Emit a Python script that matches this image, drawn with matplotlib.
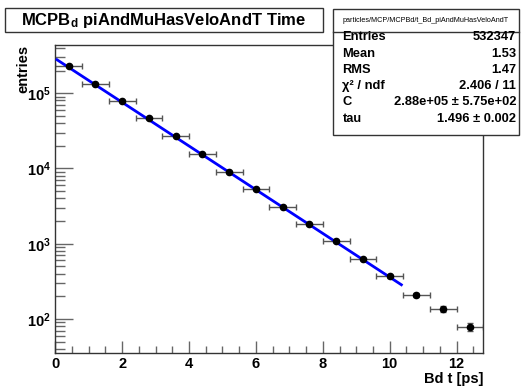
import numpy as np
import matplotlib
matplotlib.use("Agg")
import matplotlib.pyplot as plt
from matplotlib.patches import Rectangle
from matplotlib.ticker import LogLocator, MultipleLocator, NullFormatter

plt.rcParams['font.family'] = ['Liberation Sans', 'DejaVu Sans']
plt.rcParams['mathtext.default'] = 'regular'

# data
bin_centers = [0.4, 1.2, 2.0, 2.8, 3.6, 4.4, 5.2, 6.0, 6.8, 7.6, 8.4, 9.2, 10.0, 10.8, 11.6, 12.4]
bin_halfwidth = [0.4] * 16
entries = [230000, 134000, 78000, 46300, 26800, 15600, 8930, 5300, 3100, 1820, 1100, 625, 368, 210, 135, 79]
entries_err = [480, 366, 280, 215, 164, 125, 94, 73, 56, 43, 33, 25, 19, 14.5, 11.6, 8.9]
fit_C = 2.88e5
fit_tau = 1.496
fit_range = [0.05, 10.35]

title = "MCPB$_{d}$ piAndMuHasVeloAndT Time"
stat_header = "particles/MCP/MCPBd/t_Bd_piAndMuHasVeloAndT"
stat_names = ["Entries", "Mean", "RMS", "\u03c7\u00b2 / ndf", "C", "tau"]
stat_values = ["532347", "1.53", "1.47", "2.406 / 11", "2.88e+05 \u00b1 5.75e+02", "1.496 \u00b1 0.002"]
xlabel = "Bd t [ps]"
ylabel = "entries"

W, H = 524, 387
fig = plt.figure(figsize=(W / 100, H / 100), dpi=100)
fig.patch.set_facecolor('white')

def fx(px):
    return px / W

def fy(py):
    return 1 - py / H

ax_l, ax_r, ax_t, ax_b = 55.3, 483.3, 45, 353.3
ax = fig.add_axes([fx(ax_l), fy(ax_b), (ax_r - ax_l) / W, (ax_b - ax_t) / H])
ax.set_xlim(0, 12.8)
ax.set_ylim(35, 4.37e5)
ax.set_yscale('log')

frame_col = '#333333'
for s in ax.spines.values():
    s.set_color(frame_col)
    s.set_linewidth(1.0)

ax.errorbar(bin_centers, entries, xerr=bin_halfwidth, yerr=entries_err, fmt='none',
            ecolor='#555555', elinewidth=1.0, capsize=2, capthick=1.0, zorder=2)
ax.plot(bin_centers, entries, 'o', color='black', markersize=4.5, zorder=4)

tt = np.linspace(fit_range[0], fit_range[1], 300)
ax.plot(tt, fit_C * np.exp(-tt / fit_tau), color='#0000ff', lw=2, zorder=3)

ax.xaxis.set_major_locator(MultipleLocator(2))
ax.xaxis.set_minor_locator(MultipleLocator(0.5))
ax.yaxis.set_major_locator(LogLocator(base=10, numticks=10))
ax.yaxis.set_minor_locator(LogLocator(base=10, subs=np.arange(2, 10), numticks=20))
ax.yaxis.set_minor_formatter(NullFormatter())
ax.tick_params(axis='both', which='both', direction='in', color='#666666', width=1,
               top=False, right=False)
ax.tick_params(axis='x', which='major', length=9, pad=2.5, labelsize=10.5)
ax.tick_params(axis='x', which='minor', length=5)
ax.tick_params(axis='y', which='major', length=13, pad=3, labelsize=10.5)
ax.tick_params(axis='y', which='minor', length=7)
for lab in ax.get_xticklabels() + ax.get_yticklabels():
    lab.set_fontweight('bold')

fig.text(fx(483), fy(378.5), xlabel, ha='right', va='center', fontsize=10.5, fontweight='bold')
fig.text(fx(23), fy(45), ylabel, ha='center', va='top', rotation=90, fontsize=10.5, fontweight='bold')

# title box
fig.patches.append(Rectangle((fx(5), fy(32)), 318 / W, 24 / H, transform=fig.transFigure,
                             facecolor='white', edgecolor=frame_col, lw=1.0, zorder=5))
fig.text(fx(164), fy(20), title, ha='center', va='center', fontsize=12, fontweight='bold', zorder=6)

# stat box
sx0, sx1, sy0, sy1 = 333, 519, 9, 135
fig.patches.append(Rectangle((fx(sx0), fy(sy1)), (sx1 - sx0) / W, (sy1 - sy0) / H, transform=fig.transFigure,
                             facecolor='white', edgecolor=frame_col, lw=1.0, zorder=5))
fig.add_artist(plt.Line2D([fx(sx0), fx(sx1)], [fy(31.5), fy(31.5)], transform=fig.transFigure,
                          color=frame_col, lw=1.0, zorder=6))
fig.text(fx((sx0 + sx1) / 2), fy(20.5), stat_header, ha='center', va='center', fontsize=5.2, zorder=7)
row_y = [37.5, 53.7, 69.9, 86.1, 102.3, 118.5]
for name, val, yy in zip(stat_names, stat_values, row_y):
    fig.text(fx(342.5), fy(yy), name, ha='left', va='center', fontsize=9.3, fontweight='bold', zorder=7)
    fig.text(fx(516), fy(yy), val, ha='right', va='center', fontsize=9.3, fontweight='bold', zorder=7)

fig.savefig('out.png', dpi=100)
